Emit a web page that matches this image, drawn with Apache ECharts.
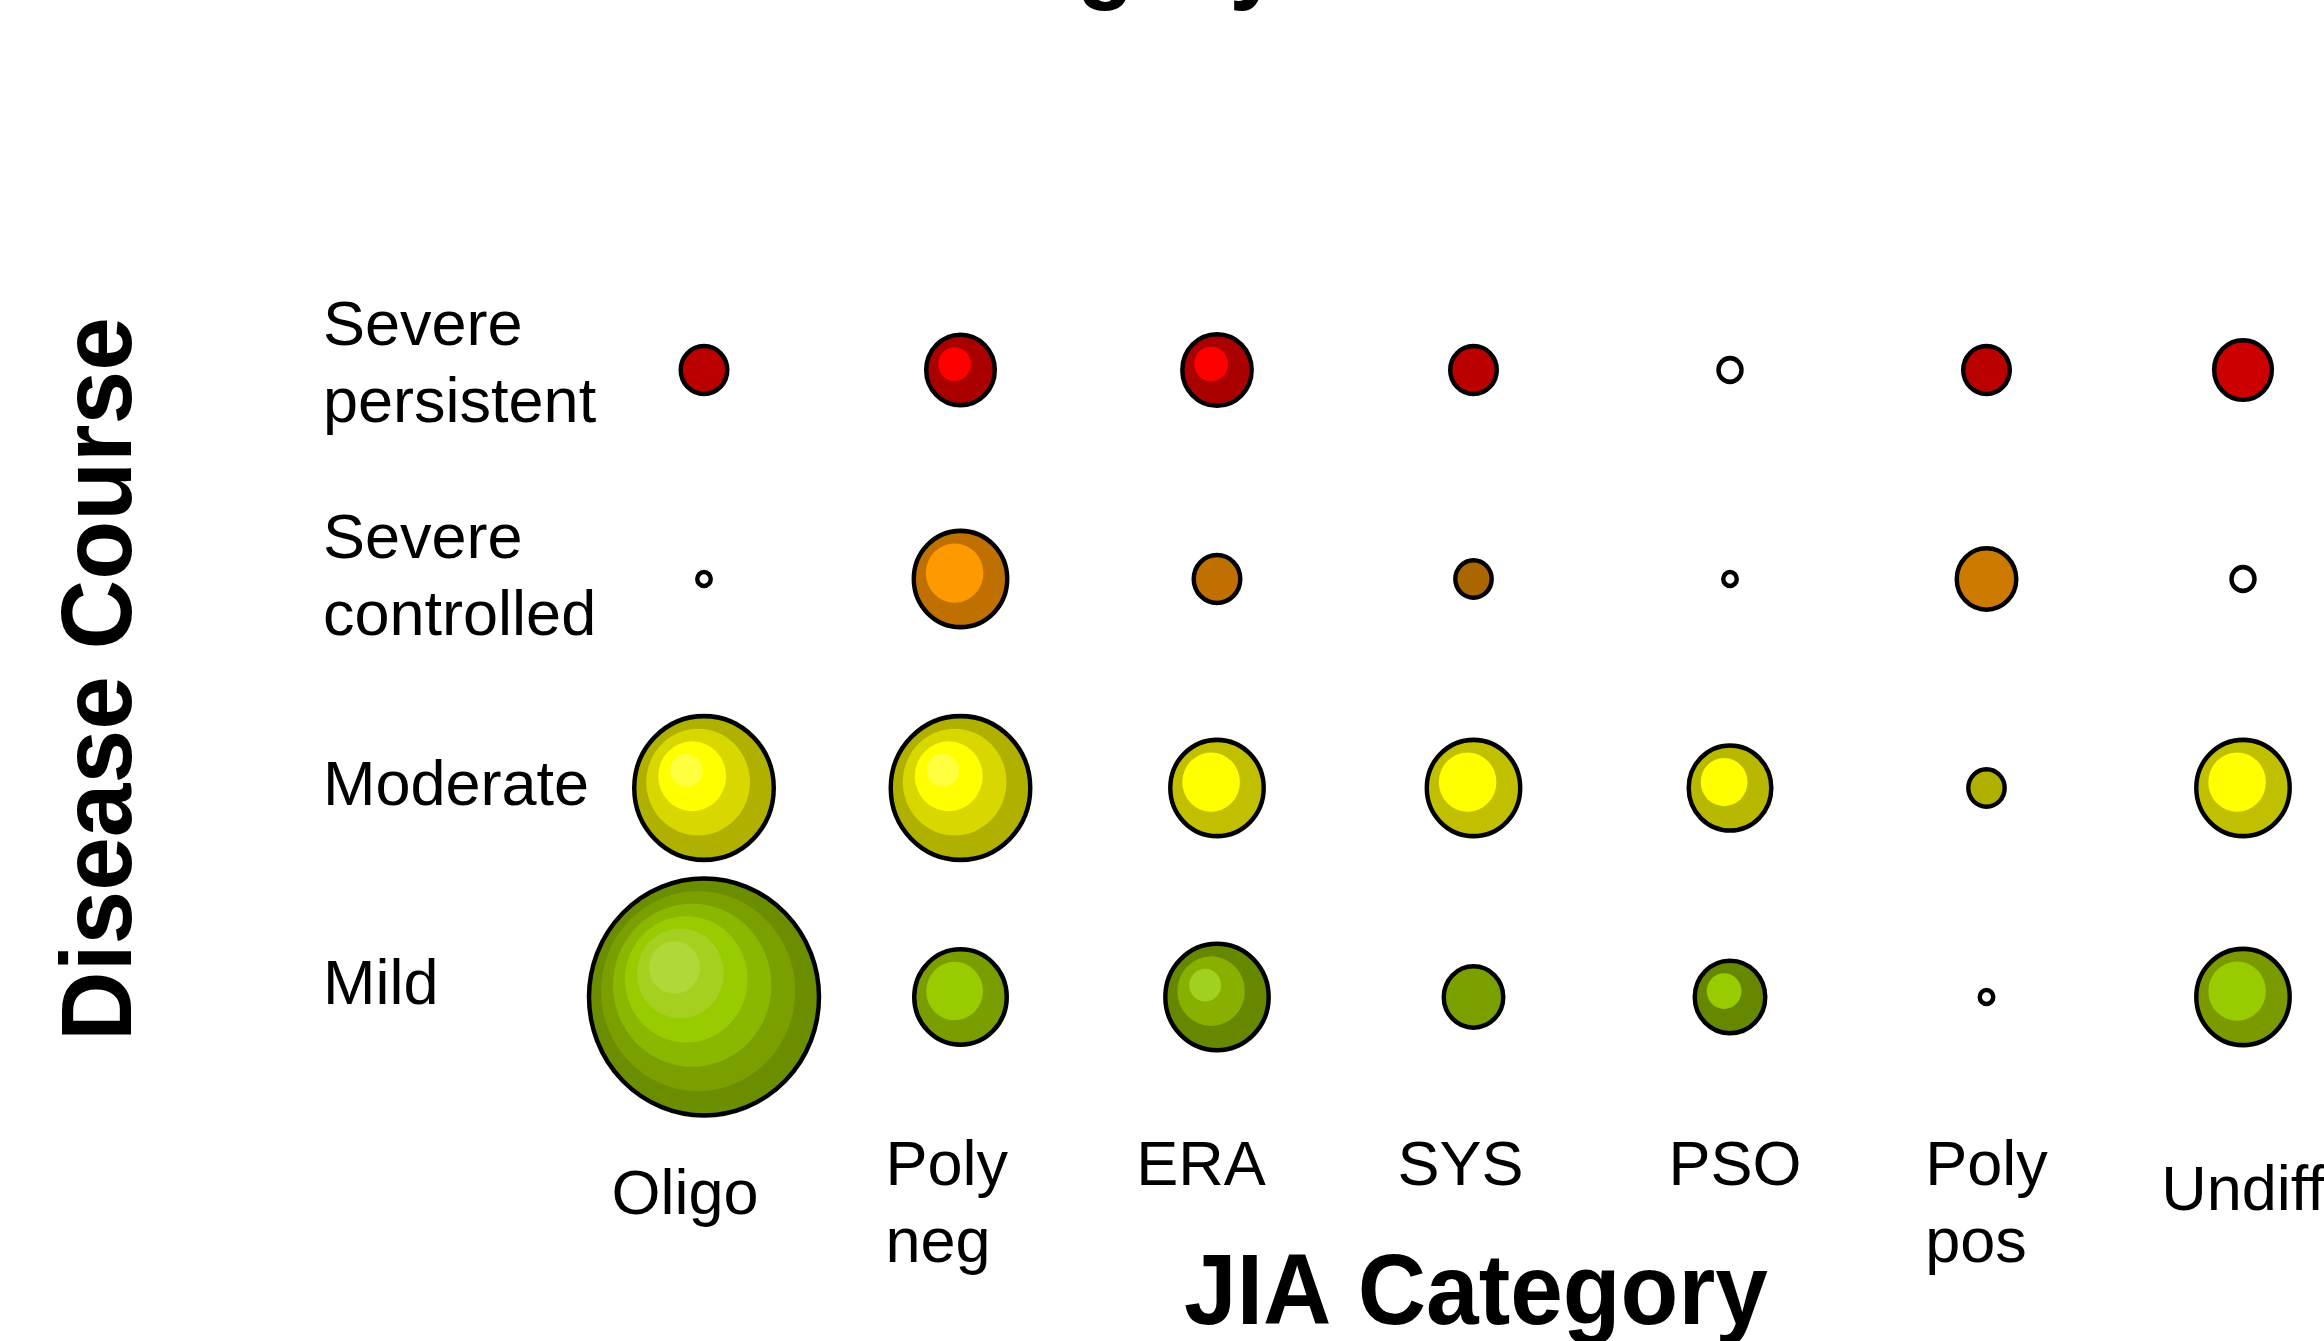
<!DOCTYPE html>
<html>
<head>
<meta charset="utf-8">
<script src="https://cdn.jsdelivr.net/npm/echarts@6/dist/echarts.min.js"></script>
<style>
html,body{margin:0;padding:0;background:#fff;}
#chart{width:2324px;height:1341px;}
</style>
</head>
<body>
<div id="chart"></div>
<script>
// ---- data ----
const jiaCategories = ['Oligo', 'Poly\nneg', 'ERA', 'SYS', 'PSO', 'Poly\npos', 'Undiff'];
const courseCategories = ['Mild', 'Moderate', 'Severe\ncontrolled', 'Severe\npersistent'];
const mildValues          = [100, 16.2, 20.2, 6.7, 9.4, 0, 16.5];
const moderateValues      = [36.8, 36.8, 16.5, 16.5, 12.9, 2.5, 16.5];
const sevControlledValues = [0, 16.5, 4.1, 2.5, 0, 6.7, 1.0];
const sevPersistentValues = [4.1, 8.9, 9.1, 4.1, 1.0, 4.1, 6.3];
const rowValues = [mildValues, moderateValues, sevControlledValues, sevPersistentValues];
const xTitle = 'JIA Category';
const yTitle = 'Disease Course';
const topTitle = 'JIA Category';

// ---- styles (layer colours, outer -> inner) ----
const mildLayers = [
  ['#6b8e00','#7aa000','#8ab800','#99cc00','#a6d020','#b0d838'],
  ['#7a9e00','#99cc00'],
  ['#668800','#88b000','#a2d020'],
  ['#7aa000'],
  ['#668800','#99cc00'],
  ['#ffffff'],
  ['#7a9a00','#99cc00']
];
const moderateLayers = [
  ['#b0b000','#d8d800','#ffff00','#ffff40'],
  ['#b0b000','#d8d800','#ffff00','#ffff40'],
  ['#c0c000','#ffff00'],
  ['#c0c000','#ffff00'],
  ['#b8b800','#ffff00'],
  ['#b0b000'],
  ['#c0c000','#ffff00']
];
const sevControlledLayers = [
  ['#ffffff'],
  ['#c07000','#ff9900'],
  ['#c07000'],
  ['#aa6600'],
  ['#ffffff'],
  ['#cc7a00'],
  ['#ffffff']
];
const sevPersistentLayers = [
  ['#bb0000'],
  ['#aa0000','#ff0000'],
  ['#aa0000','#ff0000'],
  ['#bb0000'],
  ['#ffffff'],
  ['#bb0000'],
  ['#cc0000']
];
const rowLayers = [mildLayers, moderateLayers, sevControlledLayers, sevPersistentLayers];

const FONT = '"Liberation Sans", Arial, Helvetica, sans-serif';
const SIZE_K = 23, MIN_SIZE = 13.5, RING_STEP = 35.8, RING_SHIFT = 5.9, STRETCH = 1.03;
function sizeOf(v) { return v > 0 ? SIZE_K * Math.sqrt(v) : MIN_SIZE; }

const series = [];
for (let k = 0; k < 6; k++) {
  const data = [];
  rowValues.forEach((vals, yi) => {
    vals.forEach((v, xi) => {
      const layers = rowLayers[yi][xi];
      if (layers.length > k) {
        const s = sizeOf(v) - RING_STEP * k;
        data.push({
          value: [jiaCategories[xi], courseCategories[yi], v],
          symbolSize: [s, s * STRETCH],
          symbolOffset: [-RING_SHIFT * k, -RING_SHIFT * k],
          itemStyle: { color: layers[k] }
        });
      }
    });
  });
  series.push({
    type: 'scatter',
    symbol: 'circle',
    silent: true,
    z: 2 + k,
    itemStyle: k === 0 ? { borderColor: '#000', borderWidth: 4.5, opacity: 1 } : { borderWidth: 0, opacity: 1 },
    emphasis: { disabled: true },
    data: data
  });
}

// label style tweaks (per category)
const xLabelKey = {'Oligo':'lo', 'Poly\nneg':'ln', 'ERA':'s1', 'SYS':'s2', 'PSO':'s3', 'Poly\npos':'lp', 'Undiff':'lu'};
const baseTxt = { fontSize: 63, lineHeight: 77, fontFamily: FONT, color: '#000' };
const yLabelSpacer = {'Mild': 'g21', 'Moderate': null, 'Severe\ncontrolled': null, 'Severe\npersistent': 'g7'};

const titleFont = 'bold 101px ' + FONT;

const chart = echarts.init(document.getElementById('chart'));
chart.setOption({
  backgroundColor: '#fff',
  animation: false,
  grid: { left: 704, right: 81, top: 370, bottom: 344, containLabel: false, outerBoundsMode: 'none' },
  xAxis: {
    type: 'category',
    data: jiaCategories,
    boundaryGap: false,
    axisLine: { show: false }, axisTick: { show: false }, splitLine: { show: false },
    axisLabel: {
      interval: 0,
      margin: 132,
      fontSize: 63, lineHeight: 77, fontFamily: FONT, color: '#000',
      formatter: function (v) {
        const key = xLabelKey[v];
        return v.split('\n').map(p => '{' + key + '|' + p + '}').join('\n');
      },
      rich: {
        lo: Object.assign({}, baseTxt, { padding: [0, 38, 0, 0], lineHeight: 136 }),
        ln: Object.assign({}, baseTxt, { align: 'left', width: 150 }),
        s1: Object.assign({}, baseTxt, { padding: [0, 32, 0, 0] }),
        s2: Object.assign({}, baseTxt, { padding: [0, 26, 0, 0] }),
        s3: Object.assign({}, baseTxt, { padding: [0, 0, 0, 10] }),
        lp: Object.assign({}, baseTxt, { align: 'left' }),
        lu: Object.assign({}, baseTxt, { lineHeight: 127 })
      }
    }
  },
  yAxis: {
    type: 'category',
    data: courseCategories,
    boundaryGap: false,
    axisLine: { show: false }, axisTick: { show: false }, splitLine: { show: false },
    axisLabel: {
      interval: 0,
      margin: 381,
      align: 'left',
      fontSize: 63, lineHeight: 77, fontFamily: FONT, color: '#000',
      formatter: function (v) {
        let s = v.split('\n').map(p => '{t|' + p + '}').join('\n');
        const sp = yLabelSpacer[v];
        if (sp) s += '\n{' + sp + '| }';
        return s;
      },
      rich: {
        t: Object.assign({}, baseTxt, { align: 'left' }),
        g21: { fontSize: 6, lineHeight: 21, align: 'left' },
        g7: { fontSize: 6, lineHeight: 7, align: 'left' }
      }
    }
  },
  graphic: [
    {
      type: 'text', x: 990, y: -38, scaleX: 0.937, silent: true,
      style: { text: topTitle, font: titleFont, fill: '#000', align: 'center', verticalAlign: 'middle' }
    },
    {
      type: 'text', x: 1476, y: 1296, scaleX: 0.937, silent: true,
      style: { text: xTitle, font: titleFont, fill: '#000', align: 'center', verticalAlign: 'middle' }
    },
    {
      type: 'text', x: 103, y: 679, rotation: Math.PI / 2, scaleX: 0.955, silent: true,
      style: { text: yTitle, font: titleFont, fill: '#000', align: 'center', verticalAlign: 'middle' }
    }
  ],
  series: series
});
</script>
</body>
</html>
